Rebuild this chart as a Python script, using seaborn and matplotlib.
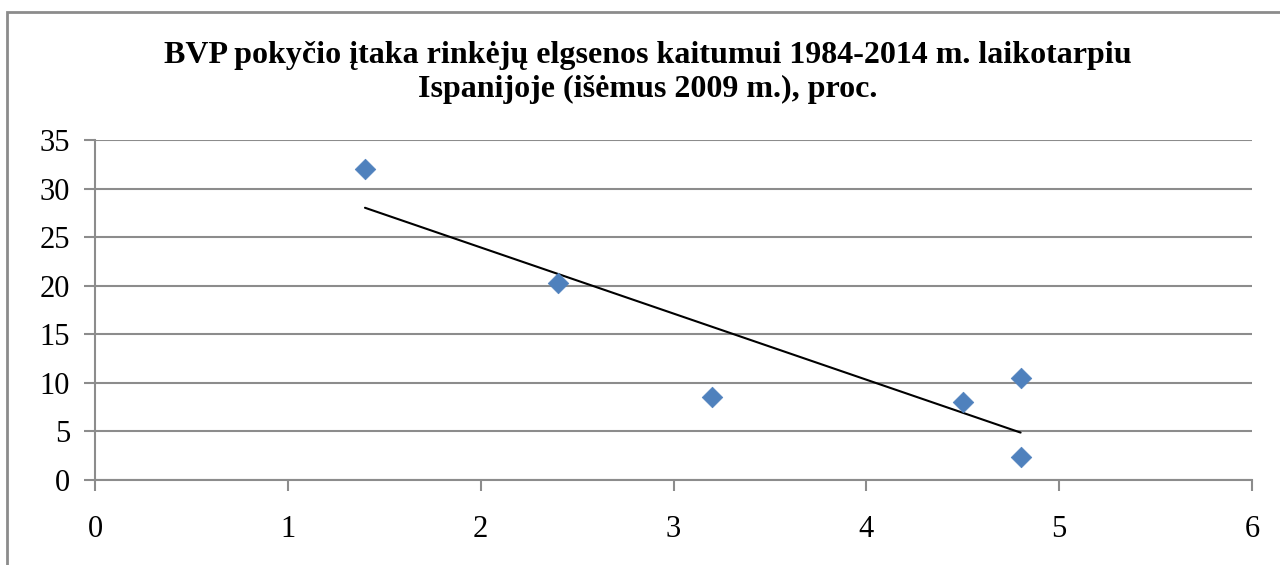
import matplotlib
matplotlib.use("Agg")
import matplotlib.pyplot as plt
import matplotlib.patches as mpatches
import numpy as np
import pandas as pd
import seaborn as sns

# BVP pokytis (x) ir rinkėjų elgsenos kaitumas (y)
bvp_change = [1.4, 2.4, 3.2, 4.5, 4.8, 4.8]
volatility = [32.0, 20.3, 8.5, 8.0, 10.5, 2.4]

x_ticks = [0, 1, 2, 3, 4, 5, 6]
y_ticks = [0, 5, 10, 15, 20, 25, 30, 35]

title = ("BVP pokyčio įtaka rinkėjų elgsenos kaitumui 1984-2014 m. laikotarpiu\n"
         "Ispanijoje (išėmus 2009 m.), proc.")

df = pd.DataFrame({"bvp": bvp_change, "kaita": volatility})

sns.set_theme(style="white")
plt.rcParams["font.family"] = ["Liberation Serif", "DejaVu Serif"]

grid_col = "#8c8c8c"
fig = plt.figure(figsize=(12.8, 5.65), dpi=100)
ax = fig.add_axes([95 / 1280, 1 - 480 / 565, (1252 - 95) / 1280, (480 - 140) / 565])

# outer chart frame (only top/left visible in the crop)
fig.patches.append(mpatches.Rectangle((7 / 1280, -0.2), 2, 1 - 12 / 565 + 0.2,
                                      transform=fig.transFigure, fill=False,
                                      edgecolor="#8c8c8c", linewidth=2))

sns.regplot(data=df, x="bvp", y="kaita", ax=ax, ci=None, scatter=False,
            line_kws={"color": "black", "linewidth": 1.5})
sns.scatterplot(data=df, x="bvp", y="kaita", ax=ax, marker="D", s=110,
                color="#4f81bd", edgecolor="#4f81bd", linewidth=0.5, zorder=3)

ax.set_xlim(0, 6)
ax.set_ylim(0, 35)
ax.set_xticks(x_ticks)
ax.set_yticks(y_ticks)
ax.set_xlabel("")
ax.set_ylabel("")
ax.yaxis.grid(True, color=grid_col, linewidth=1.5)
ax.set_axisbelow(True)

for side in ["top", "right"]:
    ax.spines[side].set_visible(False)
for side in ["left", "bottom"]:
    ax.spines[side].set_color(grid_col)
    ax.spines[side].set_linewidth(1.5)

ax.tick_params(axis="both", direction="out", length=8, width=1.5, color=grid_col,
               labelsize=22, labelcolor="black")
ax.tick_params(axis="x", pad=17, bottom=True)
ax.tick_params(axis="y", pad=10, left=True)

fig.text(0.506, 0.872, title, ha="center", va="center", fontsize=23,
         fontweight="bold", linespacing=1.25, color="black")

fig.savefig("out.png", dpi=100)
